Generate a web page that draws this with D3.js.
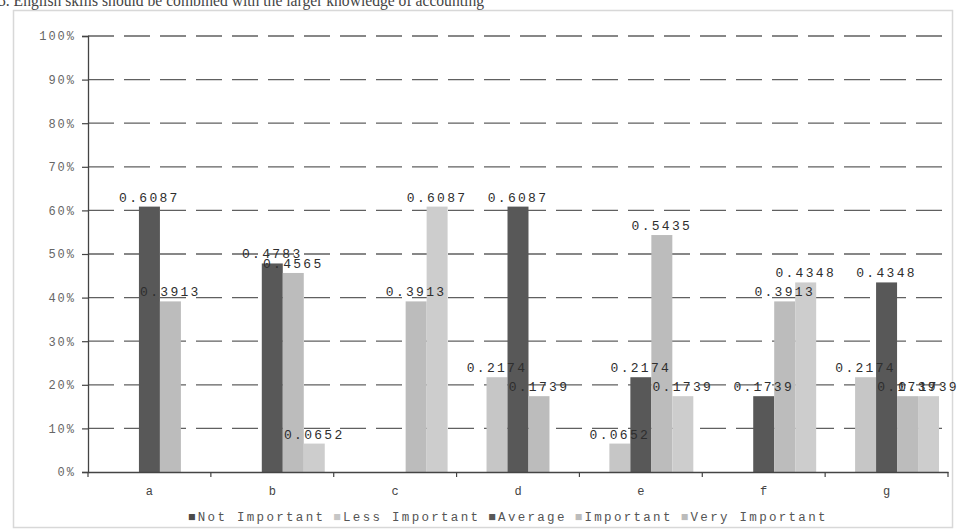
<!DOCTYPE html>
<html>
<head>
<meta charset="utf-8">
<script src="https://cdn.jsdelivr.net/npm/d3@7/dist/d3.min.js"></script>
<style>
  html, body { margin: 0; padding: 0; background: #fff; }
  svg { display: block; }
</style>
</head>
<body>
<svg id="chart" width="958" height="531"></svg>
<script>
const categories = ["a", "b", "c", "d", "e", "f", "g"];
const seriesNames = ["Not Important", "Less Important", "Average", "Important", "Very Important"];
const notImportant  = [0, 0, 0, 0, 0, 0, 0];
const lessImportant = [0, 0, 0, 0.2174, 0.0652, 0, 0.2174];
const average       = [0.6087, 0.4783, 0, 0.6087, 0.2174, 0.1739, 0.4348];
const important     = [0.3913, 0.4565, 0.3913, 0.1739, 0.5435, 0.3913, 0.1739];
const veryImportant = [0, 0.0652, 0.6087, 0, 0.1739, 0.4348, 0.1739];
const yTicks = [0, 0.1, 0.2, 0.3, 0.4, 0.5, 0.6, 0.7, 0.8, 0.9, 1.0];
const titleText = "5. English skills should be combined with the larger knowledge of accounting";

const seriesValues = [notImportant, lessImportant, average, important, veryImportant];
const colors = ["#4a4a4a", "#c6c6c6", "#585858", "#bcbcbc", "#cdcdcd"];

const svg = d3.select("#chart");
const mono = "'Liberation Mono', 'DejaVu Sans Mono', monospace";

// outer frame
svg.append("rect").attr("x", 13.5).attr("y", 10.5).attr("width", 939).attr("height", 517)
  .attr("fill", "none").attr("stroke", "#d8d8d8").attr("stroke-width", 1.5);

// title text at the top, partly cut off by the page edge as in the reference
svg.append("text").attr("x", -2).attr("y", 6)
  .attr("font-family", "'Liberation Serif', serif").attr("font-size", 17)
  .attr("fill", "#444").attr("textLength", 486).attr("lengthAdjust", "spacingAndGlyphs")
  .text(titleText);

const plotLeft = 88, plotRight = 948, plotTop = 36, plotBottom = 472;

const y = d3.scaleLinear().domain([0, 1]).range([plotBottom, plotTop]);
const x0 = d3.scaleBand().domain(categories).range([plotLeft, plotRight])
  .paddingInner(0.146).paddingOuter(0.073);
const x1 = d3.scaleBand().domain(seriesNames).range([0, x0.bandwidth()]);

// gridlines
svg.append("g").selectAll("line").data(yTicks.filter(d => d > 0)).join("line")
  .attr("x1", plotLeft).attr("x2", plotRight)
  .attr("y1", d => y(d)).attr("y2", d => y(d))
  .attr("stroke", "#606060").attr("stroke-width", 1.3)
  .attr("stroke-dasharray", "26,10");

// bars
const rows = [];
categories.forEach((c, i) => {
  seriesNames.forEach((s, j) => {
    rows.push({ c, s, j, v: seriesValues[j][i] });
  });
});
const barRows = rows.filter(d => d.v > 0);

svg.append("g").selectAll("rect").data(barRows).join("rect")
  .attr("x", d => x0(d.c) + x1(d.s))
  .attr("y", d => y(d.v))
  .attr("width", x1.bandwidth())
  .attr("height", d => y(0) - y(d.v))
  .attr("fill", d => colors[d.j]);

// data labels
svg.append("g").selectAll("text").data(barRows).join("text")
  .attr("x", d => x0(d.c) + x1(d.s) + x1.bandwidth() / 2)
  .attr("y", d => y(d.v) - 5)
  .attr("text-anchor", "middle")
  .attr("font-family", mono).attr("font-size", 13)
  .attr("letter-spacing", 2.3)
  .attr("fill", "#2e2e2e")
  .text(d => d.v.toFixed(4));

// y axis
const yAxis = d3.axisLeft(y).tickValues(yTicks).tickFormat(d3.format(".0%")).tickSize(6).tickPadding(6);
const gy = svg.append("g").attr("transform", `translate(${plotLeft},0)`).call(yAxis);
gy.select(".domain").attr("stroke", "#444").attr("stroke-width", 1.3);
gy.selectAll(".tick line").attr("stroke", "#444").attr("stroke-width", 1.2);
gy.selectAll(".tick text").attr("font-family", mono).attr("font-size", 12)
  .attr("fill", "#666").attr("letter-spacing", 2);

// x axis
const xAxis = d3.axisBottom(x0).tickSize(0).tickPadding(14);
const gx = svg.append("g").attr("transform", `translate(0,${plotBottom})`).call(xAxis);
gx.select(".domain").attr("stroke", "#444").attr("stroke-width", 1.3);
gx.selectAll(".tick text").attr("font-family", mono).attr("font-size", 12).attr("fill", "#444");

// category boundary tick marks
const boundaries = d3.range(categories.length + 1).map(i => plotLeft + i * x0.step());
svg.append("g").selectAll("line").data(boundaries).join("line")
  .attr("x1", d => d).attr("x2", d => d)
  .attr("y1", plotBottom).attr("y2", plotBottom + 5)
  .attr("stroke", "#444").attr("stroke-width", 1.2);

// legend as one text line with coloured squares
const legend = svg.append("text").attr("x", 188).attr("y", 521)
  .attr("font-family", mono).attr("font-size", 12.5).attr("fill", "#555")
  .attr("letter-spacing", 2.3);
seriesNames.forEach((s, j) => {
  legend.append("tspan").attr("fill", colors[j] === "#cdcdcd" ? "#bbb" : colors[j])
    .attr("dx", j === 0 ? 0 : 8).text("■");
  legend.append("tspan").attr("fill", "#555").text(s);
});
</script>
</body>
</html>
